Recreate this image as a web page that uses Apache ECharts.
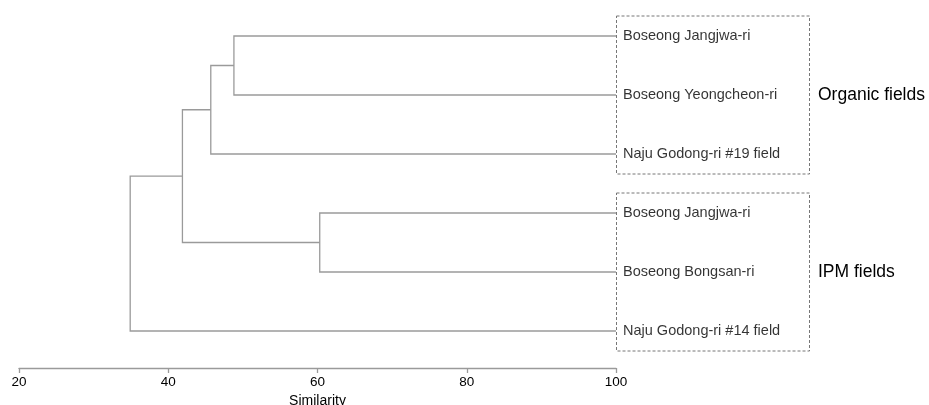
<!DOCTYPE html>
<html>
<head>
<meta charset="utf-8">
<script src="https://cdn.jsdelivr.net/npm/echarts@6/dist/echarts.min.js"></script>
<style>
html,body{margin:0;padding:0;background:#fff;}
#chart{width:929px;height:405px;}
</style>
</head>
<body>
<div id="chart"></div>
<script>
// Leaves (top to bottom)
var leafNames = ['Boseong Jangjwa-ri', 'Boseong Yeongcheon-ri', 'Naju Godong-ri #19 field',
                 'Boseong Jangjwa-ri', 'Boseong Bongsan-ri', 'Naju Godong-ri #14 field'];
// Merges: children ('L' = leaf index, 'M' = earlier merge index) and similarity level
var mergeLeft  = ['L0', 'M0', 'L3', 'M1', 'M3'];
var mergeRight = ['L1', 'L2', 'L4', 'M2', 'L5'];
var mergeSim   = [48.8, 45.7, 60.3, 41.9, 34.9];
// Groups
var groupNames = ['Organic fields', 'IPM fields'];
var groupFirst = [0, 3];
var groupLast  = [2, 5];
var xTicks = [20, 40, 60, 80, 100];

var leafSim = 100;
var nodePos = {};
leafNames.forEach(function (n, i) { nodePos['L' + i] = { x: leafSim, y: i }; });
var segs = [];
mergeSim.forEach(function (s, m) {
  var a = nodePos[mergeLeft[m]], b = nodePos[mergeRight[m]];
  segs.push({ coords: [[a.x, a.y], [s, a.y], [s, b.y], [b.x, b.y]] });
  nodePos['M' + m] = { x: s, y: (a.y + b.y) / 2 };
});

var chart = echarts.init(document.getElementById('chart'));
var FONT = 'Liberation Sans, Arial, sans-serif';
chart.setOption({
  animation: false,
  grid: { left: 19, right: 313, top: 30.1, bottom: 37, containLabel: false, outerBoundsMode: 'none' },
  xAxis: {
    type: 'value', min: xTicks[0], max: xTicks[xTicks.length - 1], interval: 20,
    splitLine: { show: false },
    axisLine: { show: true, onZero: false, lineStyle: { color: '#9a9a9a', width: 1.3 } },
    axisTick: { show: true, length: 5, lineStyle: { color: '#9a9a9a', width: 1.3 } },
    axisLabel: { color: '#000', fontSize: 13.5, fontFamily: FONT, margin: 7 },
    name: 'Similarity', nameLocation: 'middle', nameGap: 21,
    nameTextStyle: { color: '#000', fontSize: 14, fontFamily: FONT }
  },
  yAxis: {
    type: 'value', inverse: true, min: -0.1, max: 5.627, show: false
  },
  series: [
    {
      type: 'lines', coordinateSystem: 'cartesian2d', polyline: true,
      lineStyle: { color: '#9a9a9a', width: 1.3, opacity: 1 },
      data: segs, silent: true
    },
    {
      type: 'scatter', symbolSize: 0, clip: false, silent: true,
      data: leafNames.map(function (n, i) { return [leafSim, i]; }),
      label: {
        show: true, position: 'right', distance: 7, color: '#000',
        fontSize: 14.5, fontFamily: FONT,
        formatter: function (p) { return leafNames[p.dataIndex]; }
      }
    }
  ]
});

var graphics = [];
groupNames.forEach(function (g, k) {
  var p1 = chart.convertToPixel({ gridIndex: 0 }, [leafSim, groupFirst[k]]);
  var p2 = chart.convertToPixel({ gridIndex: 0 }, [leafSim, groupLast[k]]);
  var top = p1[1] - 20, bot = p2[1] + 20;
  graphics.push({
    type: 'rect', silent: true,
    shape: { x: p1[0] + 0.5, y: top, width: 193, height: bot - top },
    style: { fill: 'none', stroke: '#777', lineWidth: 1, lineDash: [3, 2] }
  });
  graphics.push({
    type: 'text', silent: true,
    x: p1[0] + 202, y: (p1[1] + p2[1]) / 2,
    style: { text: g, fill: '#000', fontSize: 17.5, fontFamily: FONT, verticalAlign: 'middle', align: 'left' }
  });
});
chart.setOption({ graphic: graphics });
</script>
</body>
</html>
